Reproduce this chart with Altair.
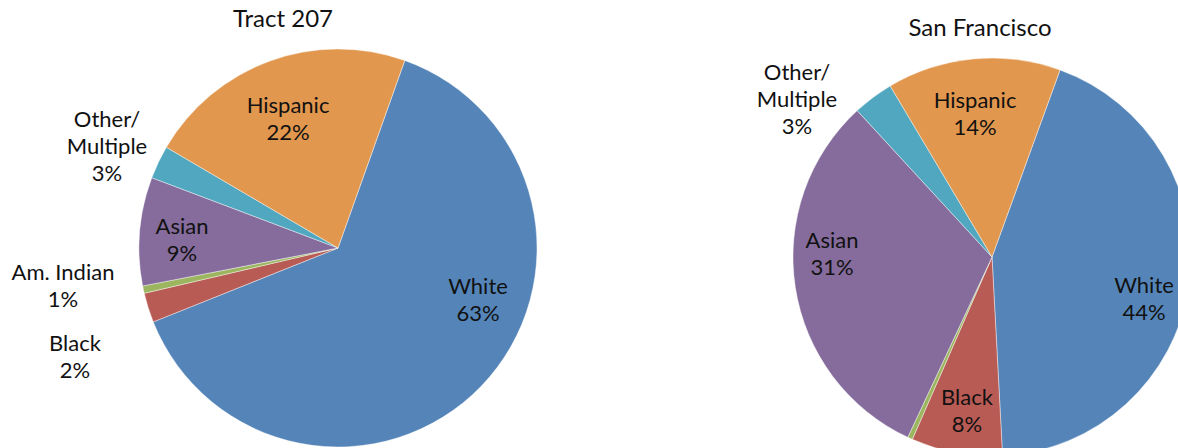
import math
import altair as alt
import pandas as pd

# ---------------- data ----------------
categories = ["White", "Black", "Am. Indian", "Asian", "Other/Multiple", "Hispanic"]
label_names = ["White", "Black", "Am. Indian", "Asian", "Other/\nMultiple", "Hispanic"]
colors = ["#5585B8", "#B95B55", "#9CB65F", "#856C9C", "#50A7BF", "#E2974E"]

tract_values = [63.5, 2.4, 0.6, 8.8, 2.7, 22.0]
tract_pct_labels = ["63%", "2%", "1%", "9%", "3%", "22%"]

sf_values = [43.6, 7.4, 0.4, 31.2, 3.3, 14.1]
sf_pct_labels = ["44%", "8%", "", "31%", "3%", "14%"]

# ---------------- layout ----------------
W, H = 1178, 448
LEFT = dict(title="Tract 207", cx=338, cy=248, r=199, start=19.6, tx=283, ty=20,
            offsets=[(140, 52), (-263, 109), (-275, 38), (-156, -8), (-231, -101), (-50, -129)])
RIGHT = dict(title="San Francisco", cx=992, cy=257, r=199, start=20.0, tx=980, ty=29,
             offsets=[(152, 42), (-25, 154), (0, 0), (-160, -3), (-195, -157), (-17, -143)])
FONT = "Lato"
FS = 22
TITLE_FS = 24
LH = 27


def pie_layers(values, pct_labels, lay):
    df = pd.DataFrame({"category": categories, "value": values,
                       "idx": list(range(len(categories)))})
    s = math.radians(lay["start"])
    total = sum(values)
    arcs = alt.Chart(df).mark_arc(radius=lay["r"], stroke="white", strokeWidth=0.6,
                                  strokeOpacity=0.7, clip=True).encode(
        theta=alt.Theta("value:Q", stack=True,
                        scale=alt.Scale(domain=[0, total], range=[s, s + 2 * math.pi])),
        color=alt.Color("category:N", scale=alt.Scale(domain=categories, range=colors),
                        legend=None),
        order=alt.Order("idx:Q"),
        x=alt.value(lay["cx"]),
        y=alt.value(lay["cy"]),
    )
    rows = []
    for name, pct, (dx, dy) in zip(label_names, pct_labels, lay["offsets"]):
        if pct:
            text = name + "\n" + pct
            n = text.count("\n") + 1
            rows.append({"lx": lay["cx"] + dx,
                         "ly": lay["cy"] + dy - (n - 1) * LH / 2,
                         "text": text})
    ldf = pd.DataFrame(rows)
    texts = alt.Chart(ldf).mark_text(font=FONT, fontSize=FS, lineBreak="\n", lineHeight=LH,
                                     baseline="middle", align="center", color="#111111").encode(
        x=alt.X("lx:Q", scale=None, axis=None),
        y=alt.Y("ly:Q", scale=None, axis=None),
        text="text:N",
    )
    tdf = pd.DataFrame([{"lx": lay["tx"], "ly": lay["ty"], "text": lay["title"]}])
    title = alt.Chart(tdf).mark_text(font=FONT, fontSize=TITLE_FS, baseline="middle",
                                     align="center", color="#111111").encode(
        x=alt.X("lx:Q", scale=None, axis=None),
        y=alt.Y("ly:Q", scale=None, axis=None),
        text="text:N",
    )
    return arcs, texts, title


la, lt, ltt = pie_layers(tract_values, tract_pct_labels, LEFT)
ra, rt, rtt = pie_layers(sf_values, sf_pct_labels, RIGHT)

chart = alt.layer(la, ra, lt, rt, ltt, rtt).resolve_scale(theta="independent").properties(
    width=W, height=H, padding=0, autosize=alt.AutoSizeParams(type="none"),
    background="white",
).configure_view(stroke=None)

chart.save("out.html", embed_options={"renderer": "svg", "actions": False})
